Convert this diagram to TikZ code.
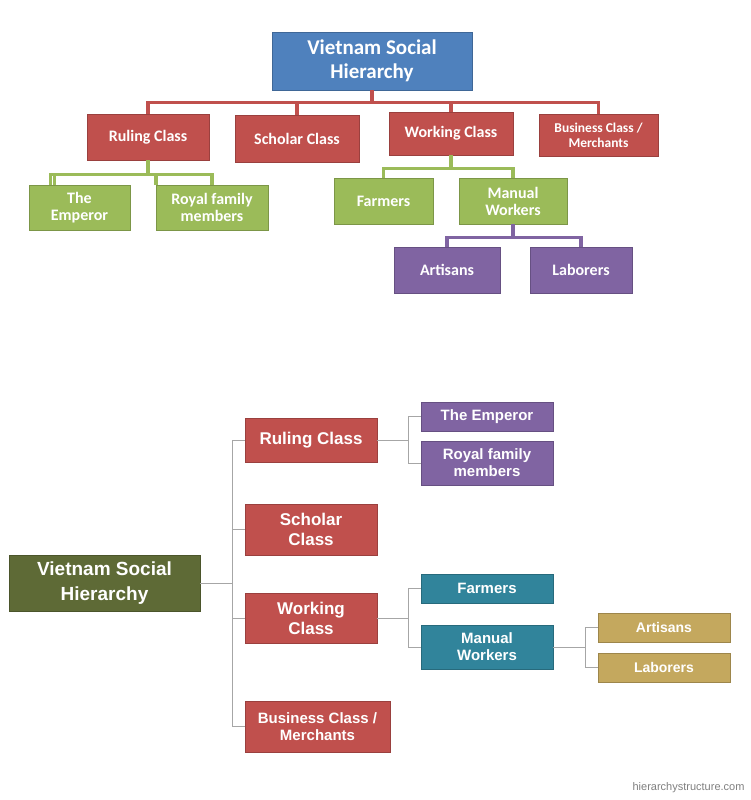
\documentclass[tikz,border=0pt]{standalone}
\usepackage{fontspec}
\setmainfont{Liberation Sans}
\newfontfamily\calfont{Carlito}
\usetikzlibrary{calc}
\definecolor{cblue}{HTML}{4F81BD}
\definecolor{cred}{HTML}{C0504D}
\definecolor{cgreen}{HTML}{9BBB59}
\definecolor{cpurple}{HTML}{8064A2}
\definecolor{colive}{HTML}{5E6A36}
\definecolor{cteal}{HTML}{31849B}
\definecolor{cgold}{HTML}{C4A85E}
\newcommand{\bx}[7]{\node[#6,minimum width={#4-#2},minimum height={#5-#3}] (#1) at ({(#2+#4)/2},{(#3+#5)/2}) {#7};}
\begin{document}
\begin{tikzpicture}[x=1pt,y=-1pt,
 box/.style={rectangle,inner sep=0pt,align=center,text=white,font=\bfseries,draw=#1!80!black,fill=#1,line width=0.6pt},
 tb/.style={box=#1,font=\calfont\bfseries\fontsize{16}{17}\selectfont},
 bb/.style={box=#1,font=\bfseries\fontsize{15}{17}\selectfont},
 tline/.style={line width=3.5pt,draw=#1},
 bline/.style={line width=1pt,draw=gray!70}]
\useasboundingbox[fill=white] (0,0) rectangle (750,800);
% top
\bx{t}{272}{32}{472}{90}{tb=cblue,font=\calfont\bfseries\fontsize{21}{24}\selectfont}{Vietnam Social\\Hierarchy}
\bx{r}{87}{114}{209}{160}{tb=cred}{Ruling Class}
\bx{s}{235}{115}{359}{162}{tb=cred}{Scholar Class}
\bx{w}{389}{112}{513}{155}{tb=cred}{Working Class}
\bx{b}{539}{114}{658}{156}{tb=cred,font=\calfont\bfseries\fontsize{13.5}{15}\selectfont}{Business Class /\\Merchants}
\bx{e}{29}{185}{130}{230}{tb=cgreen}{The\\Emperor}
\bx{f}{156}{185}{268}{230}{tb=cgreen}{Royal family\\members}
\bx{fa}{334}{178}{433}{224}{tb=cgreen}{Farmers}
\bx{m}{459}{178}{567}{224}{tb=cgreen}{Manual\\Workers}
\bx{a}{394}{247}{500}{293}{tb=cpurple}{Artisans}
\bx{l}{530}{247}{632}{293}{tb=cpurple}{Laborers}
\foreach \c in {r,s,w,b} \draw[tline=cred] (t.south) -- ++(0,12) -| (\c.north);
\draw[tline=cgreen] (r.south) -- ++(0,14) -| ($(e.north)+(-25,0)$);
\draw[tline=cgreen] (r.south) -- ++(0,14) -| ($(f.north)+(-56,0)$);
\draw[tline=cgreen] (r.south) -- ++(0,14) -| ($(e.north)+(-29,0)$);
\draw[tline=cgreen] (r.south) -- ++(0,14) -| ($(f.north)+(-56,0)$);
\draw[tline=cgreen] (r.south) -- ++(0,14) -| ($(f.north)+(0,0)$);
\draw[tline=cgreen] (w.south) -- ++(0,13) -| (fa.north);
\draw[tline=cgreen] (w.south) -- ++(0,13) -| (m.north);
\draw[tline=cpurple] (m.south) -- ++(0,13) -| (a.north);
\draw[tline=cpurple] (m.south) -- ++(0,13) -| (l.north);
% bottom
\bx{R}{9}{555}{200}{611}{bb=colive,font=\bfseries\fontsize{19}{25}\selectfont}{Vietnam Social\\Hierarchy}
\bx{R1}{245}{418}{377}{462}{bb=cred,font=\bfseries\fontsize{17}{20}\selectfont}{Ruling Class}
\bx{R2}{245}{504}{377}{555}{bb=cred,font=\bfseries\fontsize{17}{20}\selectfont}{Scholar\\Class}
\bx{R3}{245}{593}{377}{643}{bb=cred,font=\bfseries\fontsize{17}{20}\selectfont}{Working\\Class}
\bx{R4}{245}{701}{390}{752}{bb=cred}{Business Class /\\Merchants}
\bx{E}{421}{402}{553}{431}{bb=cpurple}{The Emperor}
\bx{F}{421}{441}{553}{485}{bb=cpurple}{Royal family\\members}
\bx{FA}{421}{574}{553}{603}{bb=cteal}{Farmers}
\bx{M}{421}{625}{553}{669}{bb=cteal}{Manual\\Workers}
\bx{A}{598}{613}{730}{642}{bb=cgold,font=\bfseries\fontsize{14}{16}\selectfont}{Artisans}
\bx{L}{598}{653}{730}{682}{bb=cgold,font=\bfseries\fontsize{14}{16}\selectfont}{Laborers}
\foreach \c in {R1,R2,R3,R4} \draw[bline] (R.east) -- ++(32,0) |- (\c.west);
\foreach \c in {E,F} \draw[bline] (R1.east) -- ++(31,0) |- (\c.west);
\foreach \c in {FA,M} \draw[bline] (R3.east) -- ++(31,0) |- (\c.west);
\foreach \c in {A,L} \draw[bline] (M.east) -- ++(32,0) |- (\c.west);
\node[anchor=east,text=gray,font=\fontsize{11}{12}\selectfont] (site) at (748,788) {hierarchystructure.com};
\end{tikzpicture}
\end{document}
